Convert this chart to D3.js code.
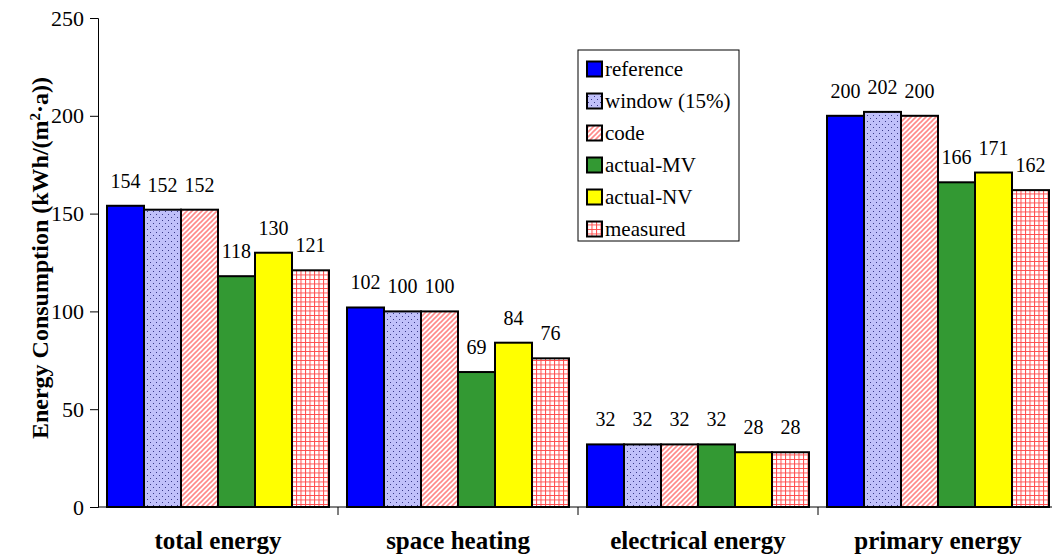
<!DOCTYPE html>
<html>
<head>
<meta charset="utf-8">
<script src="https://cdn.jsdelivr.net/npm/d3@7"></script>
<style>
  html, body { margin: 0; padding: 0; background: #fff; }
  svg { display: block; }
  svg text { font-family: "Liberation Serif", "Times New Roman", "DejaVu Serif", serif; }
</style>
</head>
<body>
<svg id="chart" width="1052" height="559"></svg>
<script>
// Energy consumption per category, for each scenario
const categories = ["total energy", "space heating", "electrical energy", "primary energy"];
const seriesNames = ["reference", "window (15%)", "code", "actual-MV", "actual-NV", "measured"];
const reference = [154, 102, 32, 200];
const windowValues = [152, 100, 32, 202];
const code = [152, 100, 32, 200];
const actualMV = [118, 69, 32, 166];
const actualNV = [130, 84, 28, 171];
const measured = [121, 76, 28, 162];
const yTicks = [0, 50, 100, 150, 200, 250];

const seriesValues = [reference, windowValues, code, actualMV, actualNV, measured];
const fills = ["#0000ff", "url(#pDots)", "url(#pDiag)", "#339933", "#ffff00", "url(#pGrid)"];
const serif = "Liberation Serif, Times New Roman, DejaVu Serif, serif";

const svg = d3.select("#chart").attr("font-family", serif);
const plot = { left: 98, right: 1058, top: 18, bottom: 507 };

// Fill patterns
const defs = svg.append("defs");
const dots = defs.append("pattern").attr("id", "pDots")
  .attr("patternUnits", "userSpaceOnUse").attr("width", 6).attr("height", 6);
dots.append("rect").attr("width", 6).attr("height", 6).attr("fill", "#c0c0fa");
dots.append("rect").attr("x", 1).attr("y", 1).attr("width", 1).attr("height", 1).attr("fill", "#3a3a8a");
dots.append("rect").attr("x", 4).attr("y", 4).attr("width", 1).attr("height", 1).attr("fill", "#3a3a8a");

const diag = defs.append("pattern").attr("id", "pDiag")
  .attr("patternUnits", "userSpaceOnUse").attr("width", 5).attr("height", 5);
diag.append("rect").attr("width", 5).attr("height", 5).attr("fill", "#ffffff");
diag.append("path").attr("d", "M-1,1 L1,-1 M0,5 L5,0 M4,6 L6,4")
  .attr("stroke", "#ff8a8a").attr("stroke-width", 1.6);

const grid = defs.append("pattern").attr("id", "pGrid")
  .attr("patternUnits", "userSpaceOnUse").attr("width", 4.5).attr("height", 4.5);
grid.append("rect").attr("width", 4.5).attr("height", 4.5).attr("fill", "#ffffff");
grid.append("path").attr("d", "M0,0.5 H4.5 M0.5,0 V4.5")
  .attr("stroke", "#ff4a4a").attr("stroke-width", 1);

// Scales
const x0 = d3.scaleBand().domain(categories).range([plot.left, plot.right]).padding(0);
const x1 = d3.scaleBand().domain(seriesNames).range([9, x0.bandwidth() - 9]).padding(0);
const y = d3.scaleLinear().domain([0, 250]).range([plot.bottom, plot.top]);

// Bars
const groups = svg.append("g").selectAll("g")
  .data(categories).join("g")
  .attr("transform", d => `translate(${x0(d)},0)`);

groups.each(function (cat, ci) {
  const g = d3.select(this);
  const rows = seriesNames.map((s, si) => ({ s, si, v: seriesValues[si][ci] }));
  g.selectAll("rect").data(rows).join("rect")
    .attr("x", d => x1(d.s))
    .attr("y", d => y(d.v))
    .attr("width", x1.bandwidth())
    .attr("height", d => y(0) - y(d.v))
    .attr("fill", d => fills[d.si])
    .attr("stroke", "#000")
    .attr("stroke-width", 2);
  g.selectAll("text").data(rows).join("text")
    .attr("x", d => x1(d.s) + x1.bandwidth() / 2)
    .attr("y", d => y(d.v) - 18)
    .attr("text-anchor", "middle")
    .attr("font-family", serif)
    .attr("font-size", 20)
    .attr("fill", "#000")
    .text(d => d.v);
});

// Y axis
const yAxis = svg.append("g")
  .attr("transform", `translate(${plot.left},0)`)
  .call(d3.axisLeft(y).tickValues(yTicks).tickSize(8).tickPadding(6));
yAxis.attr("font-family", serif).attr("font-size", 22);
yAxis.select(".domain").attr("stroke", "#000").attr("stroke-width", 1);
yAxis.selectAll(".tick line").attr("stroke", "#000");
yAxis.selectAll(".tick text").attr("fill", "#000");

// X axis baseline with group separators
const xAxisG = svg.append("g");
xAxisG.append("line")
  .attr("x1", plot.left).attr("x2", plot.right)
  .attr("y1", y(0)).attr("y2", y(0))
  .attr("stroke", "#000").attr("stroke-width", 1);
xAxisG.selectAll("line.sep").data(categories.slice(1)).join("line")
  .attr("class", "sep")
  .attr("x1", d => x0(d)).attr("x2", d => x0(d))
  .attr("y1", y(0)).attr("y2", y(0) + 8)
  .attr("stroke", "#000");
xAxisG.selectAll("text").data(categories).join("text")
  .attr("x", d => x0(d) + x0.bandwidth() / 2)
  .attr("y", 549)
  .attr("text-anchor", "middle")
  .attr("font-family", serif)
  .attr("font-size", 25).attr("font-weight", "bold")
  .text(d => d);

// Y axis title
const title = svg.append("text")
  .attr("transform", "translate(48,258) rotate(-90)")
  .attr("text-anchor", "middle")
  .attr("font-family", serif)
  .attr("font-size", 24).attr("font-weight", "bold");
title.append("tspan").text("Energy Consumption (kWh/(m");
title.append("tspan").attr("baseline-shift", "super").attr("font-size", 15).text("2");
title.append("tspan").text("·a))");

// Legend
const legend = svg.append("g");
legend.append("rect")
  .attr("x", 578).attr("y", 50).attr("width", 161).attr("height", 191)
  .attr("fill", "#fff").attr("stroke", "#000").attr("stroke-width", 1);
const items = legend.selectAll("g.item").data(seriesNames).join("g")
  .attr("class", "item")
  .attr("transform", (d, i) => `translate(587,${69 + i * 32})`);
items.append("rect")
  .attr("x", 0).attr("y", -7.5).attr("width", 15).attr("height", 15)
  .attr("fill", (d, i) => fills[i])
  .attr("stroke", "#000").attr("stroke-width", 2);
items.append("text")
  .attr("x", 18).attr("y", 7)
  .attr("font-family", serif)
  .attr("font-size", 21)
  .text(d => d);
</script>
</body>
</html>
